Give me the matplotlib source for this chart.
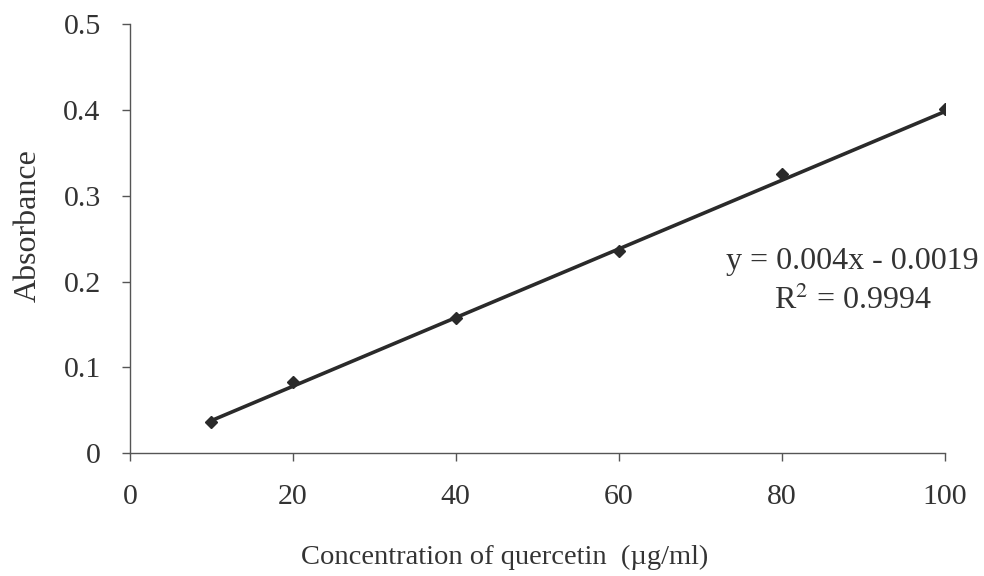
import numpy as np
import matplotlib.pyplot as plt

# Quercetin calibration data
concentration = [10, 20, 40, 60, 80, 100]
absorbance = [0.037, 0.083, 0.158, 0.236, 0.325, 0.401]

# Linear fit reported on the chart
slope = 0.004
intercept = -0.0019
r_squared = 0.9994

x_ticks = [0, 20, 40, 60, 80, 100]
y_ticks = [0, 0.1, 0.2, 0.3, 0.4, 0.5]
y_tick_labels = ["0", "0.1", "0.2", "0.3", "0.4", "0.5"]

plt.rcParams["font.family"] = ["Liberation Serif", "DejaVu Serif"]
plt.rcParams["mathtext.fontset"] = "stix"

fig = plt.figure(figsize=(9.84, 5.76), dpi=100)
ax = fig.add_axes([0.132, 0.213, 0.828, 0.745])

# Trend line over the measured range
x_fit = np.array([concentration[0], concentration[-1]])
ax.plot(x_fit, slope * x_fit + intercept, color="#2a2a2a", linewidth=2.6, zorder=2)
ax.plot(concentration, absorbance, linestyle="none", marker="D", markersize=6.5,
        color="#2a2a2a", zorder=3)

ax.set_xlim(0, 100)
ax.set_ylim(0, 0.5)
ax.set_xticks(x_ticks)
ax.set_yticks(y_ticks)
ax.set_yticklabels(y_tick_labels)

for side in ["top", "right"]:
    ax.spines[side].set_visible(False)
for side in ["left", "bottom"]:
    ax.spines[side].set_color("#555555")
    ax.spines[side].set_linewidth(1.0)

ax.tick_params(axis="both", direction="out", length=6, width=1.0,
               colors="#555555", labelcolor="#333333", labelsize=21.5)
ax.tick_params(axis="x", pad=16)
ax.tick_params(axis="y", pad=15)

ax.set_xlabel("Concentration of quercetin  (µg/ml)", fontsize=20.5, color="#333333")
ax.set_ylabel("Absorbance", fontsize=23, color="#333333")
ax.xaxis.set_label_coords(0.46, -0.214)
ax.yaxis.set_label_coords(-0.107, 0.531)

ax.text(88.7, 0.224, f"y = {slope}x - {abs(intercept)}", fontsize=23,
        color="#333333", ha="center", va="center")
ax.text(88.7, 0.178, f"R$^2$ = {r_squared}", fontsize=23,
        color="#333333", ha="center", va="center")

fig.savefig("out.png", dpi=100)
